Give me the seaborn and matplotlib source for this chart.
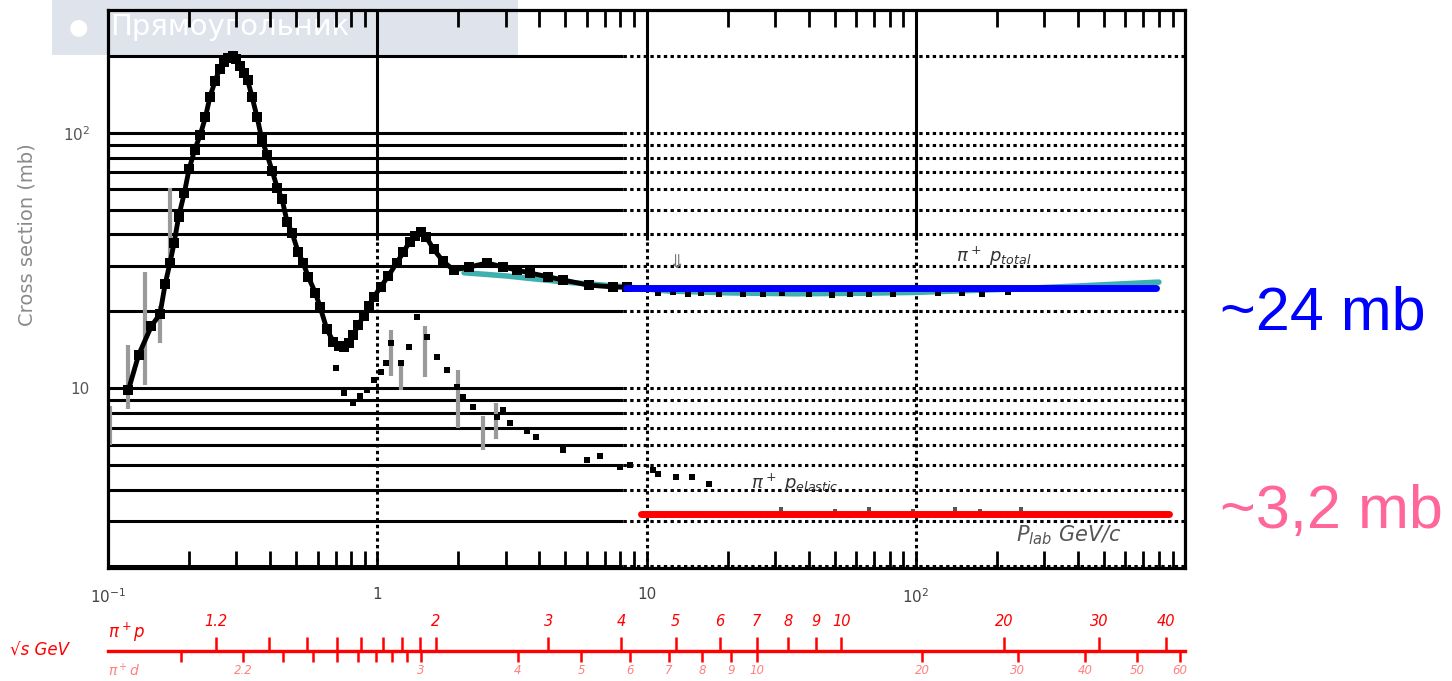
import numpy as np
import matplotlib
matplotlib.use('Agg')
import matplotlib.pyplot as plt
import matplotlib.ticker as mticker
from matplotlib.patches import Rectangle
import seaborn as sns

# pi+ p total cross section, resonance region (p_lab GeV/c -> mb)
p_total = [0.119, 0.130, 0.145, 0.156, 0.163, 0.170, 0.176, 0.183, 0.192, 0.200,
           0.210, 0.220, 0.230, 0.239, 0.250, 0.260, 0.270, 0.280, 0.290, 0.300,
           0.310, 0.320, 0.330, 0.343, 0.358, 0.373, 0.390, 0.407, 0.425, 0.443,
           0.463, 0.483, 0.508, 0.530, 0.555, 0.589, 0.613, 0.650, 0.686, 0.720,
           0.750, 0.785, 0.815, 0.850, 0.890, 0.930, 0.970, 1.03, 1.10, 1.18,
           1.25, 1.32, 1.38, 1.45, 1.52, 1.62, 1.75, 1.92, 2.20, 2.56,
           2.93, 3.30, 3.70, 4.30, 4.90, 6.10, 7.50, 8.50]
sigma_total = [9.8, 13.5, 17.5, 19.5, 25.5, 31, 37, 47, 58, 72,
               86, 98, 115, 138, 160, 178, 190, 197, 200, 194,
               182, 171, 161, 138, 115, 94, 82, 71, 61, 55,
               44.6, 40.5, 34.2, 31, 27.2, 23.6, 20.8, 17.0, 15.2, 14.6,
               14.5, 15.0, 16.2, 17.6, 19.2, 21.0, 22.7, 24.9, 27.5, 30.9,
               34.0, 37.5, 39.5, 41.0, 39.0, 35.0, 31.5, 29.0, 29.8, 30.9,
               29.8, 29.0, 28.2, 27.3, 26.5, 25.3, 24.9, 24.8]

# total, high energy points
p_total_hi = [11.0, 12.5, 14.3, 15.9, 18.6, 22.8, 27.1, 31.8, 40.0, 48.8, 57.1, 67.2, 82.5, 121, 148, 176, 220]
sigma_total_hi = [23.6, 23.8, 23.4, 23.5, 23.3, 23.4, 23.3, 23.5, 23.3, 23.2, 23.4, 23.3, 23.4, 23.6, 23.5, 23.3, 23.7]

# fit curve (cyan)
p_fit = [2.1, 3.0, 5.0, 8.0, 12, 20, 35, 60, 100, 200, 400, 800]
sigma_fit = [28.3, 27.5, 26.0, 25.0, 24.0, 23.6, 23.4, 23.5, 23.7, 24.3, 25.1, 26.0]

# pi+ p elastic
p_elastic = [0.70, 0.75, 0.81, 0.86, 0.92, 0.97, 1.03, 1.08, 1.12, 1.22, 1.31, 1.41, 1.53, 1.67, 1.81, 1.98,
             2.08, 2.27, 2.79, 2.93, 3.10, 3.60, 3.90, 4.90, 6.00, 6.70, 8.00, 8.70, 10.6, 11.0, 12.9, 14.8, 17.0]
sigma_elastic = [12.0, 9.6, 8.7, 9.3, 9.8, 10.7, 11.5, 12.5, 15.0, 12.5, 14.5, 19.0, 15.9, 13.2, 11.8, 10.1,
                 9.2, 8.4, 7.7, 8.2, 7.3, 6.8, 6.4, 5.7, 5.2, 5.4, 4.9, 5.0, 4.76, 4.6, 4.47, 4.47, 4.2]
p_elastic_hi = [31.6, 40, 50, 57, 67, 98, 140, 173, 245]
sigma_elastic_hi = [3.35, 3.25, 3.3, 3.15, 3.35, 3.3, 3.35, 3.3, 3.35]

# gray error bars
err_p = [0.102, 0.119, 0.137, 0.156, 0.170, 1.12, 1.22, 1.51, 2.0, 2.48, 2.75]
err_lo = [6.0, 8.3, 10.3, 15.0, 30.0, 11.1, 9.8, 11.0, 7.0, 5.7, 6.3]
err_hi = [8.5, 14.7, 28.5, 21.0, 61.0, 16.9, 12.5, 17.5, 11.8, 7.8, 8.7]

# asymptotic levels
p_blue = [8.4, 780]
sigma_blue = [24.7, 24.7]
p_red = [9.5, 870]
sigma_red = [3.2, 3.2]

# sqrt(s) scales
pip_ticks = [1.2, 1.3, 1.4, 1.5, 1.6, 1.7, 1.8, 1.9, 2, 3, 4, 5, 6, 7, 8, 9, 10, 20, 30, 40]
pip_labels = ['1.2', '', '', '', '', '', '', '', '2', '3', '4', '5', '6', '7', '8', '9', '10', '20', '30', '40']
pid_ticks = [2.1, 2.2, 2.3, 2.4, 2.5, 2.6, 2.7, 2.8, 2.9, 3, 4, 5, 6, 7, 8, 9, 10, 20, 30, 40, 50, 60]
pid_labels = ['', '2.2', '', '', '', '', '', '', '', '3', '4', '5', '6', '7', '8', '9', '10', '20', '30', '40', '50', '60']

m_pi, m_p, m_d = 0.13957, 0.93827, 1.87561


def sqrt_s(p, m_t):
    p = np.asarray(p, float)
    return np.sqrt(m_pi**2 + m_t**2 + 2 * m_t * np.sqrt(p**2 + m_pi**2))


def p_lab(w, m_t):
    w = np.asarray(w, float)
    e = (w**2 - m_pi**2 - m_t**2) / (2 * m_t)
    return np.sqrt(np.maximum(e**2 - m_pi**2, 1e-12))


sns.set_style('white')
plt.rcParams['font.family'] = ['DejaVu Sans']

fig = plt.figure(figsize=(14.52, 6.81), dpi=100)
ax = fig.add_axes([108 / 1452, 1 - 568 / 681, 1077 / 1452, 558 / 681])
ax.set_facecolor('none')
ax.set_xscale('log')
ax.set_yscale('log')
ax.set_xlim(0.1, 1000)
ax.set_ylim(1.97, 303)

# overlay box at the top
fig.add_artist(Rectangle((52 / 1452, 1 - 55 / 681), 466 / 1452, 55 / 681,
                         transform=fig.transFigure, facecolor='#dfe3ec', edgecolor='none', zorder=-5))
fig.text(78 / 1452, 1 - 27 / 681, '●', color='white', fontsize=16, ha='center', va='center', zorder=-4)
fig.text(110 / 1452, 1 - 27 / 681, 'Прямоугольник', color='white', fontsize=21, ha='left', va='center', zorder=-4)

# grid
levels = [2, 3, 4, 5, 6, 7, 8, 9, 10, 20, 30, 40, 50, 60, 70, 80, 90, 100, 200]
ax.hlines(levels, 0.1, 8.2, colors='black', linewidth=2.2, zorder=1)
ax.hlines(levels, 8.2, 1000, colors='black', linewidth=2.2, linestyles=(0, (1.1, 1.1)), zorder=1)
ax.vlines([1, 10, 100], 38, 303, colors='black', linewidth=2.2, zorder=1)
ax.vlines([1, 10, 100], 1.97, 38, colors='black', linewidth=2.2, linestyles=(0, (1.1, 1.1)), zorder=1)

# data
ax.vlines(err_p, err_lo, err_hi, colors='#9a9a9a', linewidth=3, zorder=2)
sns.lineplot(x=p_fit, y=sigma_fit, ax=ax, color='#3fb0b0', linewidth=4, zorder=3)
sns.lineplot(x=p_total, y=sigma_total, ax=ax, color='black', linewidth=3.5, zorder=4)
sns.scatterplot(x=p_total, y=sigma_total, ax=ax, color='black', marker='s', s=50, linewidth=0, zorder=4)
sns.scatterplot(x=p_total_hi, y=sigma_total_hi, ax=ax, color='black', marker='s', s=22, linewidth=0, zorder=4)
sns.scatterplot(x=p_elastic, y=sigma_elastic, ax=ax, color='black', marker='s', s=20, linewidth=0, zorder=4)
sns.scatterplot(x=p_elastic_hi, y=sigma_elastic_hi, ax=ax, color='#555555', marker='s', s=10, linewidth=0, zorder=4)
sns.lineplot(x=p_blue, y=sigma_blue, ax=ax, color='#0000ff', linewidth=5, zorder=6)
sns.lineplot(x=p_red, y=sigma_red, ax=ax, color='#ff0000', linewidth=5, zorder=6)

# annotations
ax.text(141, 32.7, r'$\pi^+\ p_{total}$', fontsize=13, color='#333333', ha='left', va='center')
ax.text(24.4, 4.24, r'$\pi^+\ p_{elastic}$', fontsize=13, color='#333333', ha='left', va='center')
ax.text(235, 2.65, r'$P_{lab}$ GeV/c', fontsize=15, color='#555555', ha='left', va='center', fontstyle='italic')
ax.text(12.9, 31, '⇓', fontsize=14, color='#777777', ha='center', va='center')

# axes styling
for s in ax.spines.values():
    s.set_linewidth(2.3)
    s.set_color('black')
    s.set_visible(True)
ax.set_xticks([0.1, 1, 10, 100], ['10$^{-1}$', '1', '10', '10$^{2}$'])
ax.xaxis.set_minor_locator(mticker.LogLocator(subs=np.arange(2, 10)))
ax.xaxis.set_minor_formatter(mticker.NullFormatter())
ax.tick_params(axis='x', which='both', direction='in', top=True, bottom=True, color='black')
ax.tick_params(axis='x', which='minor', length=12, width=2)
ax.tick_params(axis='x', which='major', length=12, width=2, labelsize=11, labelcolor='#444444', pad=14)
ax.set_yticks([10, 100], ['10', '10$^{2}$'])
ax.yaxis.set_minor_locator(mticker.NullLocator())
ax.tick_params(axis='y', which='major', length=0, labelsize=11, labelcolor='#555555', pad=13)
ax.set_ylabel('Cross section (mb)', color='#8a8a8a', fontsize=14)
ax.yaxis.set_label_coords(-0.066, 0.597)
ax.set_xlabel('')

# sqrt(s) axes below the plot
loc = -(651 - 568) / 558
sec_p = ax.secondary_xaxis(loc, functions=(lambda p: sqrt_s(p, m_p), lambda w: p_lab(w, m_p)))
sec_p.set_alignment('top')
sec_p.set_ticks(pip_ticks, labels=pip_labels, fontstyle='italic')
sec_p.xaxis.set_minor_locator(mticker.NullLocator())
sec_p.tick_params(axis='x', direction='out', length=10, width=1.8, color='red', labelcolor='red',
                  labelsize=10.5, pad=6)
for s in sec_p.spines.values():
    s.set_color('red')
    s.set_linewidth(2.3)

sec_d = ax.secondary_xaxis(loc, functions=(lambda p: sqrt_s(p, m_d), lambda w: p_lab(w, m_d)))
sec_d.set_alignment('bottom')
sec_d.set_ticks(pid_ticks, labels=pid_labels, fontstyle='italic')
sec_d.xaxis.set_minor_locator(mticker.NullLocator())
sec_d.tick_params(axis='x', direction='out', length=8, width=1.8, color='red', labelcolor='#ff8080',
                  labelsize=8.5, pad=1.5)
for s in sec_d.spines.values():
    s.set_color('red')
    s.set_linewidth(2.3)

fig.text(10 / 1452, 1 - 651 / 681, '√s GeV', color='red', fontsize=12, fontstyle='italic', ha='left', va='center')
fig.text(108 / 1452, 1 - 632 / 681, r'$\pi^+p$', color='red', fontsize=12, ha='left', va='center')
fig.text(108 / 1452, 1 - 671 / 681, r'$\pi^+d$', color='#ff8080', fontsize=10, ha='left', va='center')

# right side values
fig.text(1220 / 1452, 1 - 330 / 681, '~24 mb', color='#0000ff', fontsize=44,
         family=['Liberation Sans', 'DejaVu Sans'], ha='left', va='baseline')
fig.text(1220 / 1452, 1 - 528 / 681, '~3,2 mb', color='#ff6699', fontsize=44,
         family=['Liberation Sans', 'DejaVu Sans'], ha='left', va='baseline')

fig.savefig('out.png', dpi=100)
